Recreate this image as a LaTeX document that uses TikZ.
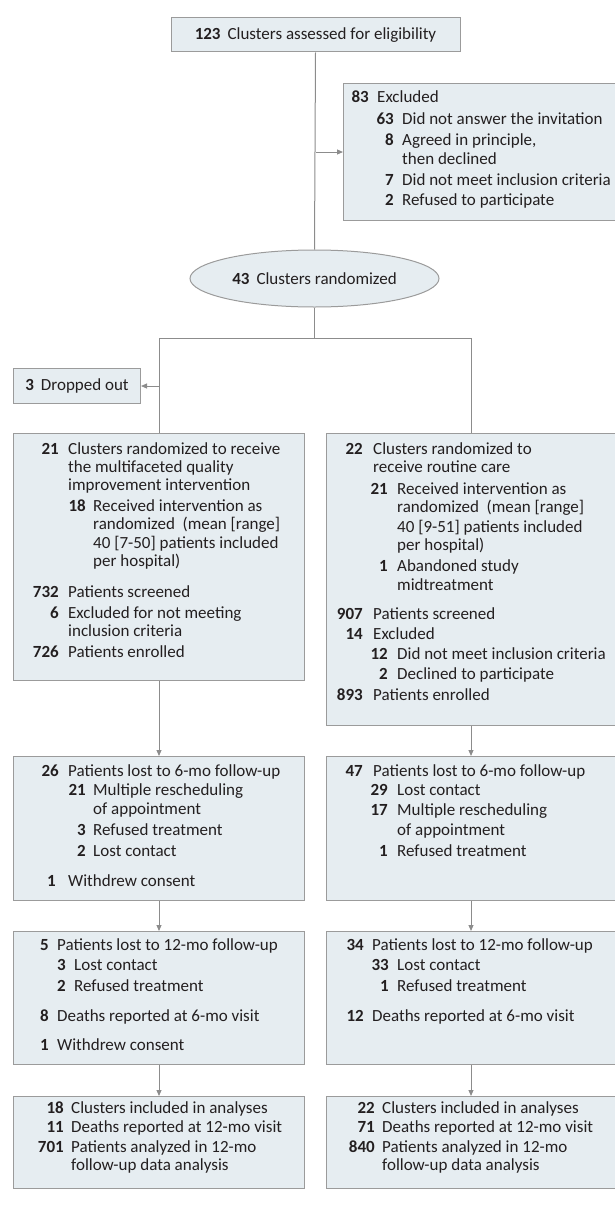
\documentclass[tikz,border=0pt]{standalone}
\usepackage{fontspec}
\setmainfont{Carlito}
\usetikzlibrary{arrows.meta,shapes.geometric}
\definecolor{boxfill}{HTML}{E6EDF1}
\definecolor{boxline}{HTML}{9B9B9B}
\definecolor{conn}{HTML}{8C8C8C}
\definecolor{txt}{HTML}{231F20}
\newcounter{tn}
\newcommand{\fitem}[5]{\stepcounter{tn}%
  \node[numlbl] (n\thetn) at (#1,#3) {\textbf{#4}};%
  \node[txtlbl] (t\thetn) at (#2,#3) {#5};}
\newcommand{\fline}[3]{\stepcounter{tn}%
  \node[txtlbl] (t\thetn) at (#1,#2) {#3};}
\tikzset{
  box/.style={draw=boxline, fill=boxfill, line width=1pt, rectangle, inner sep=0pt, text=txt},
  numlbl/.style={anchor=mid east, inner sep=0pt, text=txt},
  txtlbl/.style={anchor=mid west, inner sep=0pt, text=txt},
  conline/.style={draw=conn, line width=1pt},
  conarrow/.style={draw=conn, line width=1pt, -{Triangle[length=6pt,width=5pt]}, fill=conn},
}
\begin{document}
\begin{tikzpicture}[x=1pt, y=-1pt, font=\fontsize{17}{20}\selectfont]
\path[use as bounding box] (0,0) rectangle (614,1207);
% boxes
\node[box, minimum width=289pt, minimum height=34pt] (top) at (315.5,35) {\textbf{123}\hspace{7pt}Clusters assessed for eligibility};
\node[box, anchor=north west, minimum width=272pt, minimum height=137pt] (exc) at (343,83) {};
\node[box, ellipse, minimum width=249pt, minimum height=57pt] (ell) at (314.5,278.5) {\textbf{43}\hspace{7pt}Clusters randomized};
\node[box, anchor=north west, minimum width=127pt, minimum height=35pt] (drop) at (13,368) {\textbf{3}\hspace{7pt}Dropped out};
\node[box, anchor=north west, minimum width=291pt, minimum height=247pt] (L1) at (13,433) {};
\node[box, anchor=north west, minimum width=289pt, minimum height=292pt] (R1) at (326,433) {};
\node[box, anchor=north west, minimum width=291pt, minimum height=144pt] (L2) at (13,756) {};
\node[box, anchor=north west, minimum width=289pt, minimum height=144pt] (R2) at (326,756) {};
\node[box, anchor=north west, minimum width=291pt, minimum height=133pt] (L3) at (13,931) {};
\node[box, anchor=north west, minimum width=289pt, minimum height=133pt] (R3) at (326,931) {};
\node[box, anchor=north west, minimum width=291pt, minimum height=92pt] (L4) at (13,1096) {};
\node[box, anchor=north west, minimum width=289pt, minimum height=92pt] (R4) at (326,1096) {};
% connectors
\draw[conline] (top.south) -- (ell.north);
\coordinate (j1) at (top.south |- exc.west);
\draw[conarrow] (j1) -- (exc.west);
\coordinate (spl) at (L1.north |- 0,338);
\coordinate (spr) at (R1.north |- 0,338);
\draw[conline] (ell.south) -- (ell.south |- spl);
\draw[conline] (L1.north) -- (spl) -- (spr) -- (R1.north);
\coordinate (j2) at (L1.north |- drop.east);
\draw[conarrow] (j2) -- (drop.east);
\draw[conarrow] (L1.south) -- (L2.north);
\draw[conarrow] (R1.south) -- (R2.north);
\draw[conarrow] (L2.south) -- (L3.north);
\draw[conarrow] (R2.south) -- (R3.north);
\draw[conarrow] (L3.south) -- (L4.north);
\draw[conarrow] (R3.south) -- (R4.north);
% excluded
\fitem{369}{377}{100}{83}{Excluded}
\fitem{394}{402}{122}{63}{Did not answer the invitation}
\fitem{394}{402}{143}{8}{Agreed in principle,}
\fline{402}{162}{then declined}
\fitem{394}{402}{183}{7}{Did not meet inclusion criteria}
\fitem{394}{402}{203}{2}{Refused to participate}
% L1
\fitem{59}{68}{452}{21}{Clusters randomized to receive}
\fline{68}{470}{the multifaceted quality}
\fline{68}{488}{improvement intervention}
\fitem{86}{93}{509}{18}{Received intervention as}
\fline{93}{527}{randomized\ \ (mean [range]}
\fline{93}{546}{40 [7-50] patients included}
\fline{93}{564}{per hospital)}
\fitem{59}{68}{595}{732}{Patients screened}
\fitem{59}{68}{616}{6}{Excluded for not meeting}
\fline{68}{634}{inclusion criteria}
\fitem{59}{68}{655}{726}{Patients enrolled}
% R1
\fitem{363}{373}{452}{22}{Clusters randomized to}
\fline{373}{470}{receive routine care}
\fitem{388}{397}{492}{21}{Received intervention as}
\fline{397}{510}{randomized\ \ (mean [range]}
\fline{397}{530}{40 [9-51] patients included}
\fline{397}{548}{per hospital)}
\fitem{388}{397}{569}{1}{Abandoned study}
\fline{397}{588}{midtreatment}
\fitem{363}{373}{617}{907}{Patients screened}
\fitem{363}{373}{637}{14}{Excluded}
\fitem{388}{397}{657}{12}{Did not meet inclusion criteria}
\fitem{388}{397}{677}{2}{Declined to participate}
\fitem{363}{373}{698}{893}{Patients enrolled}
% L2
\fitem{59}{68}{774}{26}{Patients lost to 6-mo follow-up}
\fitem{86}{93}{793}{21}{Multiple rescheduling}
\fline{93}{812}{of appointment}
\fitem{86}{93}{833}{3}{Refused treatment}
\fitem{86}{93}{854}{2}{Lost contact}
\fitem{56}{68}{884}{1}{Withdrew consent}
% R2
\fitem{363}{373}{774}{47}{Patients lost to 6-mo follow-up}
\fitem{388}{397}{793}{29}{Lost contact}
\fitem{388}{397}{813}{17}{Multiple rescheduling}
\fline{397}{833}{of appointment}
\fitem{388}{397}{854}{1}{Refused treatment}
% L3
\fitem{49}{57}{948}{5}{Patients lost to 12-mo follow-up}
\fitem{66}{74}{968}{3}{Lost contact}
\fitem{66}{74}{989}{2}{Refused treatment}
\fitem{49}{57}{1019}{8}{Deaths reported at 6-mo visit}
\fitem{49}{57}{1048}{1}{Withdrew consent}
% R3
\fitem{364}{372}{948}{34}{Patients lost to 12-mo follow-up}
\fitem{389}{397}{968}{33}{Lost contact}
\fitem{389}{397}{989}{1}{Refused treatment}
\fitem{364}{372}{1019}{12}{Deaths reported at 6-mo visit}
% L4
\fitem{64}{71}{1111}{18}{Clusters included in analyses}
\fitem{64}{71}{1130}{11}{Deaths reported at 12-mo visit}
\fitem{64}{71}{1150}{701}{Patients analyzed in 12-mo}
\fline{71}{1168}{follow-up data analysis}
% R4
\fitem{375}{382}{1111}{22}{Clusters included in analyses}
\fitem{375}{382}{1130}{71}{Deaths reported at 12-mo visit}
\fitem{375}{382}{1150}{840}{Patients analyzed in 12-mo}
\fline{382}{1168}{follow-up data analysis}
\end{tikzpicture}
\end{document}
